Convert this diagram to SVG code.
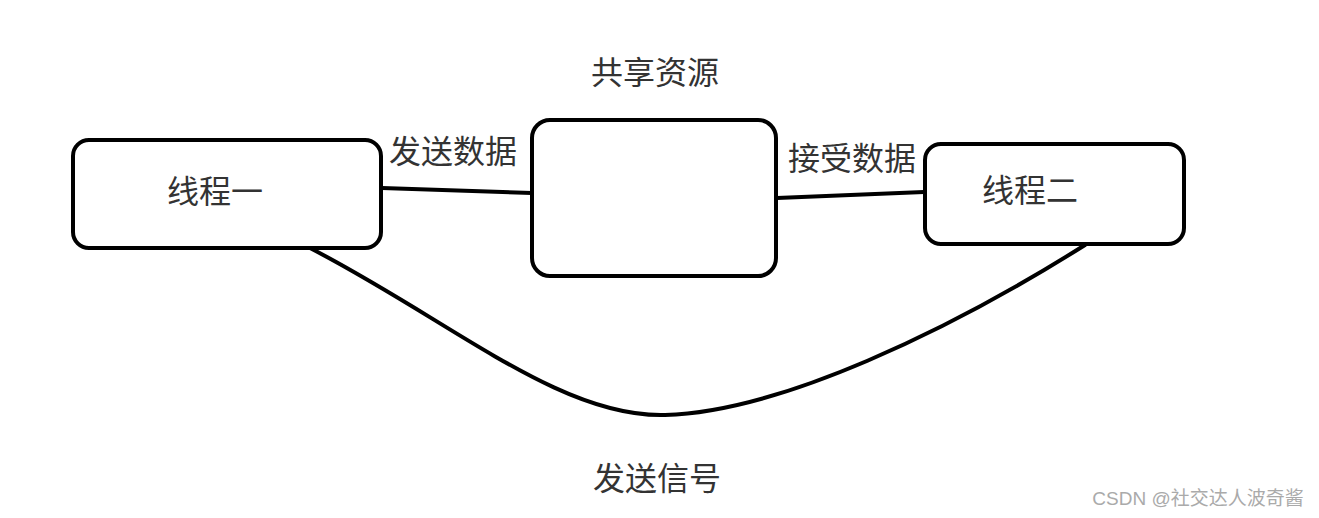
<svg xmlns="http://www.w3.org/2000/svg" width="1319" height="518" viewBox="0 0 1319 518">
<style>
.box{fill:#fff;stroke:#000;stroke-width:4}
.ln{fill:none;stroke:#000;stroke-width:4;stroke-linecap:round}
.t{font-family:"Noto Sans CJK SC","Noto Sans",sans-serif;font-size:32px;fill:#333}
.wm{font-family:"Liberation Sans","Noto Sans CJK SC",sans-serif;font-size:19px;fill:#aaa}
</style>
<rect width="1319" height="518" fill="#fff"/>
<g id="connectors">
<path class="ln" d="M382 188 L532 193"/>
<path class="ln" d="M777 198 L924 192"/>
<path class="ln" d="M310 248 C450 320 560 418 665 415 C780 412 950 330 1085 245"/>
</g>
<g id="thread1"><rect class="box" x="73" y="140" width="308" height="108" rx="16"/><text class="t" x="215" y="203" text-anchor="middle">线程一</text></g>
<g id="shared"><rect class="box" x="532" y="120" width="244" height="156" rx="18"/><text class="t" x="655" y="84" text-anchor="middle">共享资源</text></g>
<g id="thread2"><rect class="box" x="925" y="144" width="259" height="100" rx="16"/><text class="t" x="1030" y="202" text-anchor="middle">线程二</text></g>
<text class="t" x="453" y="163" text-anchor="middle">发送数据</text>
<text class="t" x="852" y="170" text-anchor="middle">接受数据</text>
<text class="t" x="657" y="490" text-anchor="middle">发送信号</text>
<text class="wm" x="1198" y="505" text-anchor="middle">CSDN @社交达人波奇酱</text>
</svg>
